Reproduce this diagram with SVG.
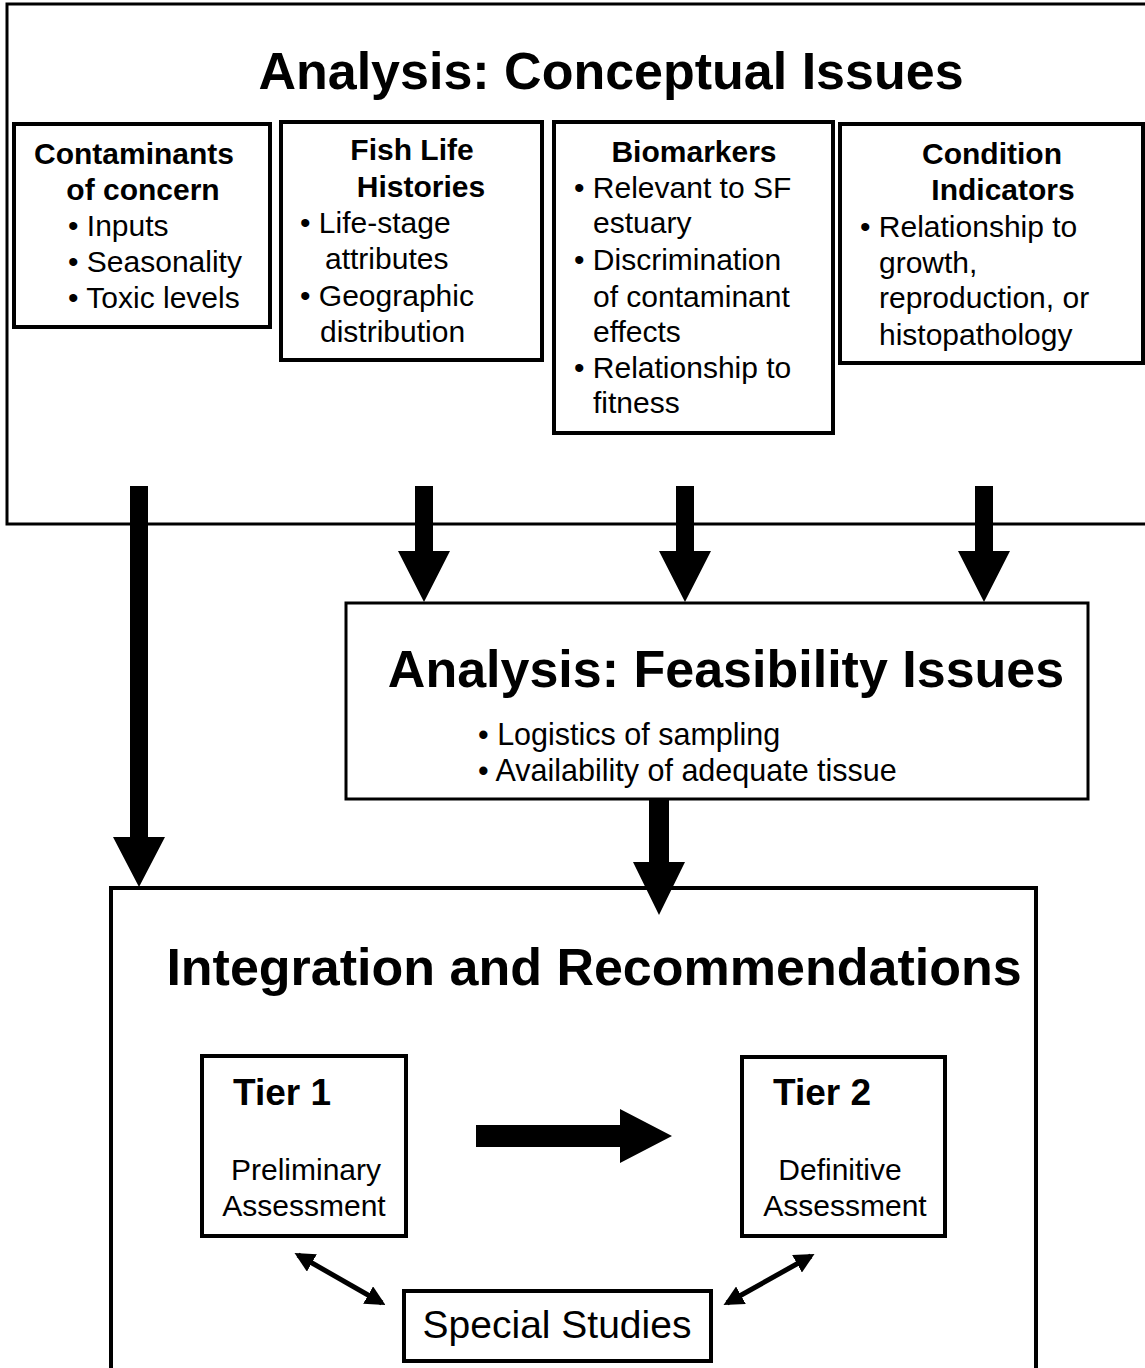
<svg xmlns="http://www.w3.org/2000/svg" width="1145" height="1368" viewBox="0 0 1145 1368">
<style>
text{font-family:"Liberation Sans",Arial,sans-serif;fill:#000}
.t{font-size:52px;font-weight:bold;text-anchor:middle}
.h{font-size:30px;font-weight:bold;text-anchor:middle}
.b{font-size:30px}
.c{font-size:30px;text-anchor:middle}
.box{fill:#fff;stroke:#000;stroke-width:4}
.thin{fill:none;stroke:#000;stroke-width:3}
.arr{fill:#000;stroke:none}
.dbl{stroke:#000;stroke-width:5;fill:none;marker-start:url(#ah);marker-end:url(#ah)}
</style>
<defs>
<marker id="ah" viewBox="0 0 10 10" refX="8" refY="5" markerWidth="4" markerHeight="4" orient="auto-start-reverse" markerUnits="strokeWidth">
<path d="M0,0 L10,5 L0,10 Z" fill="#000"/>
</marker>
</defs>
<rect width="1145" height="1368" fill="#fff"/>
<g id="conceptual">
<rect class="thin" x="7" y="4" width="1150" height="520"/>
<text class="t" x="611" y="89">Analysis: Conceptual Issues</text>
</g>
<g id="contaminants">
<rect class="box" x="14" y="124" width="256" height="203"/>
<text class="h" x="134" y="164">Contaminants</text>
<text class="h" x="143" y="200">of concern</text>
<text class="b" x="68" y="236">• Inputs</text>
<text class="b" x="68" y="272">• Seasonality</text>
<text class="b" x="68" y="308">• Toxic levels</text>
</g>
<g id="fish">
<rect class="box" x="281" y="122" width="261" height="238"/>
<text class="h" x="412" y="160">Fish Life</text>
<text class="h" x="421" y="197">Histories</text>
<text class="b" x="300" y="233">• Life-stage</text>
<text class="b" x="325" y="269">attributes</text>
<text class="b" x="300" y="306">• Geographic</text>
<text class="b" x="320" y="342">distribution</text>
</g>
<g id="biomarkers">
<rect class="box" x="554" y="122" width="279" height="311"/>
<text class="h" x="694" y="162">Biomarkers</text>
<text class="b" x="574" y="198">• Relevant to SF</text>
<text class="b" x="593" y="233">estuary</text>
<text class="b" x="574" y="270">• Discrimination</text>
<text class="b" x="593" y="307">of contaminant</text>
<text class="b" x="593" y="342">effects</text>
<text class="b" x="574" y="378">• Relationship to</text>
<text class="b" x="593" y="413">fitness</text>
</g>
<g id="condition">
<rect class="box" x="840" y="124" width="303" height="239"/>
<text class="h" x="992" y="164">Condition</text>
<text class="h" x="1003" y="200">Indicators</text>
<text class="b" x="860" y="237">• Relationship to</text>
<text class="b" x="879" y="273">growth,</text>
<text class="b" x="879" y="308">reproduction, or</text>
<text class="b" x="879" y="345">histopathology</text>
</g>
<g id="feasibility">
<rect class="thin" x="346" y="603" width="742" height="196"/>
<text class="t" x="726" y="687">Analysis: Feasibility Issues</text>
<text class="b" x="478" y="745" style="font-size:30.5px">• Logistics of sampling</text>
<text class="b" x="478" y="781" style="font-size:30.5px">• Availability of adequate tissue</text>
</g>
<g id="integration">
<rect class="box" x="111" y="888" width="925" height="500"/>
<text class="t" x="594" y="985">Integration and Recommendations</text>
</g>
<g id="tier1">
<rect class="box" x="202" y="1056" width="204" height="180"/>
<text class="b" x="233" y="1105" style="font-size:37px;font-weight:bold">Tier 1</text>
<text class="c" x="306" y="1180">Preliminary</text>
<text class="c" x="304" y="1216">Assessment</text>
</g>
<g id="tier2">
<rect class="box" x="742" y="1057" width="203" height="179"/>
<text class="b" x="773" y="1105" style="font-size:37px;font-weight:bold">Tier 2</text>
<text class="c" x="840" y="1180">Definitive</text>
<text class="c" x="845" y="1216">Assessment</text>
</g>
<g id="special">
<rect class="box" x="404" y="1291" width="307" height="70"/>
<text class="c" x="557" y="1338" style="font-size:39px">Special Studies</text>
</g>
<g id="connectors">
<polygon class="arr" points="130,486 148,486 148,837 165,837 139,887 113,837 130,837"/>
<polygon class="arr" points="415,486 433,486 433,551 450,551 424,602 398,551 415,551"/>
<polygon class="arr" points="676,486 694,486 694,551 711,551 685,602 659,551 676,551"/>
<polygon class="arr" points="975,486 993,486 993,551 1010,551 984,602 958,551 975,551"/>
<polygon class="arr" points="649,799 669,799 669,862 685,862 659,915 633,862 649,862"/>
<polygon class="arr" points="476,1125 620,1125 620,1109 672,1136 620,1163 620,1147 476,1147"/>
<line class="dbl" x1="298" y1="1255" x2="382" y2="1303"/>
<line class="dbl" x1="811" y1="1256" x2="727" y2="1303"/>
</g>
</svg>
